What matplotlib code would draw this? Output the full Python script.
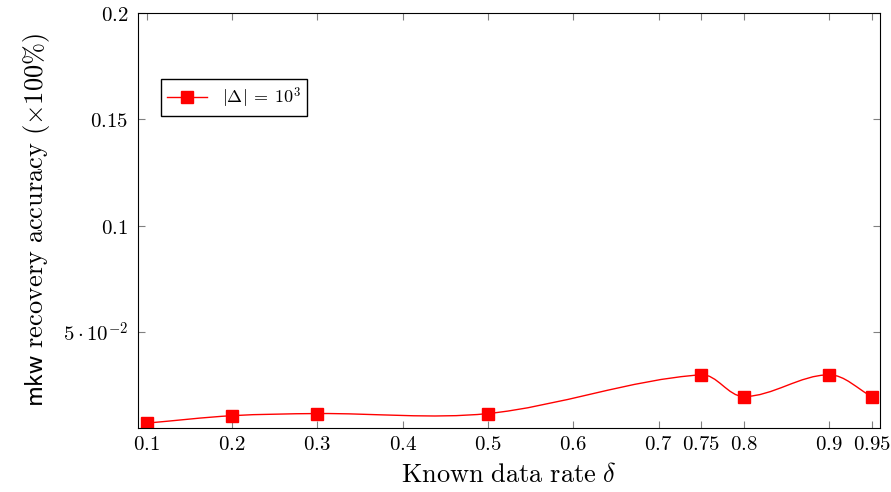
import matplotlib
matplotlib.use('Agg')
import numpy as np
import matplotlib.pyplot as plt
from matplotlib.path import Path
from matplotlib.patches import PathPatch

plt.rcParams['mathtext.fontset'] = 'cm'

# Data
rate = [0.1, 0.2, 0.3, 0.5, 0.75, 0.8, 0.9, 0.95]
accuracy = [0.0073, 0.0108, 0.0118, 0.0118, 0.030, 0.0198, 0.030, 0.0198]

x_ticks = [0.1, 0.2, 0.3, 0.4, 0.5, 0.6, 0.7, 0.75, 0.8, 0.9, 0.95]
x_tick_labels = ['0.1', '0.2', '0.3', '0.4', '0.5', '0.6', '0.7', '0.75', '0.8', '0.9', '0.95']
y_ticks = [0.05, 0.1, 0.15, 0.2]
y_tick_labels = [r'5\cdot10^{-2}', '0.1', '0.15', '0.2']


def smooth_path(ax, xs, ys, a=0.33):
    # cubic bezier through the points, built in pixel space so the
    # control arms follow the on-screen segment lengths
    p = ax.transData.transform(np.column_stack([xs, ys]))
    n = len(p)
    tang = []
    for i in range(n):
        d = p[min(i + 1, n - 1)] - p[max(i - 1, 0)]
        tang.append(d / np.hypot(*d))
    verts = [p[0]]
    codes = [Path.MOVETO]
    for i in range(n - 1):
        seg = np.hypot(*(p[i + 1] - p[i]))
        verts += [p[i] + a * seg * tang[i], p[i + 1] - a * seg * tang[i + 1], p[i + 1]]
        codes += [Path.CURVE4] * 3
    verts = ax.transData.inverted().transform(np.array(verts))
    return Path(verts, codes)


fig = plt.figure(figsize=(8.91, 4.92), dpi=100)
ax = fig.add_axes([0.155, 0.13, 0.833, 0.844])
ax.set_xlim(0.09, 0.96)
ax.set_ylim(0.005, 0.2)

ax.add_patch(PathPatch(smooth_path(ax, rate, accuracy), facecolor='none',
                       edgecolor='red', linewidth=1.0))
ax.plot(rate, accuracy, 's', color='red', markersize=9)
# proxy for the legend
ax.plot([], [], '-s', color='red', markersize=9, linewidth=1.0,
        label=r'$|\Delta|\:=\:10^3$')

ax.set_xticks(x_ticks)
ax.set_xticklabels(['$' + t + '$' for t in x_tick_labels])
ax.set_yticks(y_ticks)
ax.set_yticklabels(['$' + t + '$' for t in y_tick_labels])
ax.tick_params(direction='in', length=5, color='0.5', top=True, right=True,
               labelsize=15)
ax.tick_params(axis='x', pad=4)
ax.tick_params(axis='y', pad=7)

ax.set_xlabel(r'$\mathrm{Known\ data\ rate}\ \delta$', fontsize=19, labelpad=6)
ax.set_ylabel(r'$\mathsf{mkw}\ \mathrm{recovery\ accuracy}\ (\times 100\%)$',
              fontsize=19, labelpad=8)

ax.legend(loc='upper left', bbox_to_anchor=(0.031, 0.841), fancybox=False,
          edgecolor='black', framealpha=1, fontsize=13, handlelength=2.2,
          borderpad=0.35, borderaxespad=0)

fig.savefig('out.png', dpi=100)
